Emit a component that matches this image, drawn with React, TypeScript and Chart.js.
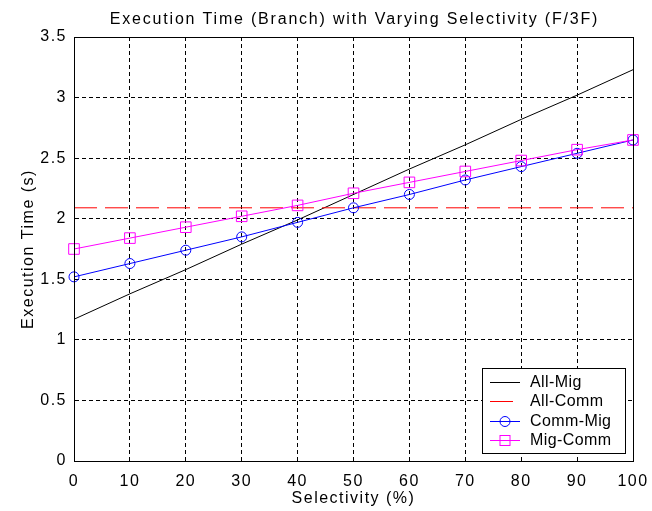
import React, { useEffect, useRef } from 'react';
import { Chart, registerables } from 'chart.js';

Chart.register(...registerables);

// ---- data ----
const selectivity = [0, 10, 20, 30, 40, 50, 60, 70, 80, 90, 100];
const allMig = [1.17, 1.38, 1.58, 1.79, 1.99, 2.2, 2.41, 2.61, 2.82, 3.02, 3.23];
const allComm = [2.09, 2.09, 2.09, 2.09, 2.09, 2.09, 2.09, 2.09, 2.09, 2.09, 2.09];
const commMig = [1.52, 1.63, 1.74, 1.85, 1.97, 2.09, 2.2, 2.32, 2.43, 2.54, 2.65];
const migComm = [1.75, 1.84, 1.93, 2.02, 2.11, 2.21, 2.3, 2.39, 2.48, 2.57, 2.65];
const xTickLabels = ['0', '10', '20', '30', '40', '50', '60', '70', '80', '90', '100'];
const yTickLabels = ['0', '0.5', '1', '1.5', '2', '2.5', '3', '3.5'];
const chartTitle = 'Execution Time (Branch) with Varying Selectivity (F/3F)';
const xTitle = 'Selectivity (%)';
const yTitle = 'Execution Time (s)';

const FONT = "'Liberation Sans', Arial, sans-serif";

export default function App() {
  const ref = useRef<HTMLCanvasElement>(null);

  useEffect(() => {
    const pts = (arr: number[]) => selectivity.map((x, i) => ({ x, y: arr[i] }));
    const framePlugin = {
      id: 'matlabFrame',
      beforeDraw(chart: any) {
        (chart.ctx as any).letterSpacing = '1.5px';
      },
      afterDraw(chart: any) {
        const { ctx, chartArea } = chart;
        ctx.save();
        ctx.setLineDash([]);
        ctx.strokeStyle = '#000';
        ctx.lineWidth = 1;
        const l = Math.round(chartArea.left) + 0.5;
        const t = Math.round(chartArea.top) + 0.5;
        const r = Math.round(chartArea.right) + 0.5;
        const b = Math.round(chartArea.bottom) + 0.5;
        ctx.strokeRect(l, t, r - l, b - t);

        // title, centred over the plot area
        (ctx as any).letterSpacing = '1.8px';
        ctx.fillStyle = '#000';
        ctx.font = `16px ${FONT}`;
        ctx.textAlign = 'center';
        ctx.textBaseline = 'middle';
        ctx.fillText(chartTitle, (chartArea.left + chartArea.right) / 2 + 1, 20);

        // legend box
        (ctx as any).letterSpacing = '0.4px';
        const w = 143, h = 85;
        const lx = Math.round(chartArea.right - 8 - w);
        const ly = Math.round(chartArea.bottom - 8 - h);
        ctx.fillStyle = '#fff';
        ctx.fillRect(lx, ly, w, h);
        ctx.strokeRect(lx + 0.5, ly + 0.5, w, h);
        chart.data.datasets.forEach((ds: any, i: number) => {
          const y = Math.round(ly + 13.5 + i * 19.5) + 0.5;
          ctx.strokeStyle = ds.borderColor;
          ctx.lineWidth = 1;
          ctx.setLineDash(ds.borderDash || []);
          ctx.beginPath();
          ctx.moveTo(lx + 8, y);
          ctx.lineTo(lx + 38, y);
          ctx.stroke();
          ctx.setLineDash([]);
          if (ds.pointStyle === 'circle' && ds.pointRadius > 0) {
            ctx.beginPath();
            ctx.arc(lx + 23, y, 5, 0, Math.PI * 2);
            ctx.stroke();
          } else if (ds.pointStyle === 'rect' && ds.pointRadius > 0) {
            ctx.strokeRect(lx + 18, y - 5, 10, 10);
          }
          ctx.fillStyle = '#000';
          ctx.font = `16px ${FONT}`;
          ctx.textBaseline = 'middle';
          ctx.textAlign = 'left';
          ctx.fillText(ds.label, lx + 48, y);
        });
        ctx.restore();
      },
    };

    const chart = new Chart(ref.current as HTMLCanvasElement, {
      type: 'line',
      data: {
        datasets: [
          {
            label: 'All-Mig',
            data: pts(allMig),
            borderColor: '#000000',
            backgroundColor: '#000000',
            borderWidth: 1,
            pointRadius: 0,
            order: 3,
            clip: false,
          } as any,
          {
            label: 'All-Comm',
            data: pts(allComm),
            borderColor: '#ff0000',
            backgroundColor: '#ff0000',
            borderWidth: 1,
            borderDash: [23, 8],
            pointRadius: 0,
            order: 2,
            clip: false,
          },
          {
            label: 'Comm-Mig',
            data: pts(commMig),
            borderColor: '#0000ff',
            backgroundColor: 'rgba(0,0,0,0)',
            borderWidth: 1,
            pointStyle: 'circle',
            pointRadius: 5,
            pointBorderWidth: 1,
            pointBorderColor: '#0000ff',
            pointBackgroundColor: 'rgba(0,0,0,0)',
            order: 1,
            clip: false,
          },
          {
            label: 'Mig-Comm',
            data: pts(migComm),
            borderColor: '#ff00ff',
            backgroundColor: 'rgba(0,0,0,0)',
            borderWidth: 1,
            pointStyle: 'rect',
            pointRadius: 7.5,
            pointBorderWidth: 1,
            pointBorderColor: '#ff00ff',
            pointBackgroundColor: 'rgba(0,0,0,0)',
            order: 0,
            clip: false,
          },
        ],
      },
      options: {
        responsive: false,
        animation: false,
        events: [],
        layout: { padding: { left: 0, right: 19, top: 37, bottom: 0 } },
        plugins: {
          legend: { display: false },
          tooltip: { enabled: false },
          title: { display: false },
        },
        scales: {
          x: {
            type: 'linear',
            min: 0,
            max: 100,
            ticks: {
              stepSize: 10,
              color: '#000',
              font: { family: FONT, size: 16 },
              padding: 11,
              maxRotation: 0,
              autoSkip: false,
              callback: (_v: any, i: number) => xTickLabels[i],
            },
            grid: { color: '#000', lineWidth: 1, drawTicks: false },
            border: { display: true, color: '#000', dash: [4, 3] },
            title: {
              display: true,
              text: xTitle,
              color: '#000',
              font: { family: FONT, size: 16 },
              padding: { top: 0, bottom: 2.4 },
            },
            afterFit: (s: any) => {
              s.height = 50;
              s.paddingLeft = 0;
              s.paddingRight = 0;
            },
          },
          y: {
            type: 'linear',
            min: 0,
            max: 3.5,
            ticks: {
              stepSize: 0.5,
              color: '#000',
              font: { family: FONT, size: 16 },
              padding: 7,
              autoSkip: false,
              callback: (_v: any, i: number) => yTickLabels[i],
            },
            grid: { color: '#000', lineWidth: 1, drawTicks: false },
            border: { display: true, color: '#000', dash: [4, 3] },
            title: {
              display: true,
              text: yTitle,
              color: '#000',
              font: { family: FONT, size: 16 },
              padding: { top: 19.4, bottom: 0 },
            },
            afterFit: (s: any) => {
              s.width = 74;
              s.paddingTop = 0;
              s.paddingBottom = 0;
            },
          },
        },
      } as any,
      plugins: [framePlugin],
    });
    return () => chart.destroy();
  }, []);

  return (
    <div style={{ position: 'absolute', left: 0, top: 0, width: 652, height: 511, background: '#fff' }}>
      <canvas ref={ref} width={652} height={511} style={{ display: 'block' }} />
    </div>
  );
}
